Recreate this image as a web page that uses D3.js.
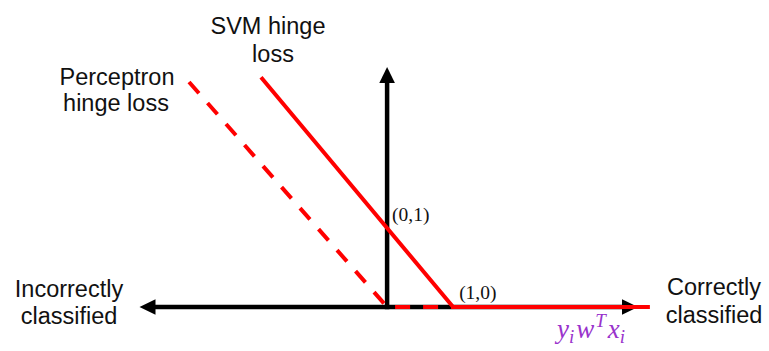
<!DOCTYPE html>
<html>
<head>
<meta charset="utf-8">
<script src="https://cdn.jsdelivr.net/npm/d3@7"></script>
<style>
  html, body { margin: 0; padding: 0; background: #fff; }
  svg { display: block; }
  .lbl { font-family: "Liberation Sans", Arial, sans-serif; font-size: 23.5px; fill: #111; }
  .pt { font-family: "Liberation Serif", "Times New Roman", serif; font-size: 19.5px; fill: #111; }
  .math { font-family: "Liberation Serif", "Times New Roman", serif; font-style: italic; font-size: 27px; fill: #9933cc; }
</style>
</head>
<body>
<svg id="chart" width="769" height="351"></svg>
<script>
// Axis extents in margin units (x = y_i w^T x_i, y = loss)
const xExtent = [-3.75, 3.8];
const yExtent = [0, 3.04];

// SVM hinge loss: max(0, 1 - m)
const svmLoss = [
  { m: -1.91, loss: 2.91 },
  { m: 1, loss: 0 },
  { m: 3.98, loss: 0 }
];
// Perceptron loss: max(0, -m), the zero part is dashed along the axis
const perceptronLoss = [
  { m: -3.0, loss: 2.85 },
  { m: 0, loss: 0 }
];
const perceptronFlat = [
  { m: 0, loss: 0 },
  { m: 1, loss: 0 }
];

// Annotated points
const points = [
  { m: 0, loss: 1, text: "(0,1)" },
  { m: 1, loss: 0, text: "(1,0)" }
];

const svg = d3.select("#chart");

const x = d3.scaleLinear().domain(xExtent).range([139.5, 638]);
const y = d3.scaleLinear().domain(yExtent).range([307, 67]);

const line = d3.line().x(d => x(d.m)).y(d => y(d.loss));

const AX_W = 4.5, HEAD_L = 16, HEAD_W = 7.8;

// Axes (black), with triangular heads
const x0 = x(0), y0 = y(0);
svg.append("line")
  .attr("x1", x(xExtent[0]) + HEAD_L - 1).attr("x2", x(xExtent[1]) - HEAD_L + 1)
  .attr("y1", y0).attr("y2", y0)
  .attr("stroke", "#000").attr("stroke-width", AX_W);
svg.append("line")
  .attr("x1", x0).attr("x2", x0)
  .attr("y1", y0 + AX_W / 2).attr("y2", y(yExtent[1]) + HEAD_L - 1)
  .attr("stroke", "#000").attr("stroke-width", AX_W);

function head(tx, ty, dx, dy) {
  // dx,dy: unit direction of the arrow
  const bx = tx - dx * HEAD_L, by = ty - dy * HEAD_L;
  const px = -dy * HEAD_W, py = dx * HEAD_W;
  return `M${tx},${ty}L${bx + px},${by + py}L${bx - px},${by - py}Z`;
}
svg.append("path").attr("d", head(x(xExtent[0]), y0, -1, 0)).attr("fill", "#000");
svg.append("path").attr("d", head(x(xExtent[1]), y0, 1, 0)).attr("fill", "#000");
svg.append("path").attr("d", head(x0, y(yExtent[1]), 0, -1)).attr("fill", "#000");

// Loss curves (red)
svg.append("path").datum(perceptronLoss)
  .attr("d", line).attr("fill", "none")
  .attr("stroke", "#ff0000").attr("stroke-width", 4)
  .attr("stroke-dasharray", "15,13");
svg.append("path").datum(perceptronFlat)
  .attr("d", line).attr("fill", "none")
  .attr("stroke", "#ff0000").attr("stroke-width", 4)
  .attr("stroke-dasharray", "15,13").attr("stroke-dashoffset", 20);
svg.append("path").datum(svmLoss)
  .attr("d", line).attr("fill", "none")
  .attr("stroke", "#ff0000").attr("stroke-width", 4)
  .attr("stroke-linejoin", "miter");

// Point labels
svg.append("text").attr("class", "pt")
  .attr("x", x(points[0].m) + 5).attr("y", y(points[0].loss) - 7)
  .text(points[0].text);
svg.append("text").attr("class", "pt")
  .attr("x", x(points[1].m) + 6).attr("y", y(points[1].loss) - 8)
  .text(points[1].text);

// Text labels
function twoLines(lines) {
  lines.forEach(l => {
    svg.append("text").attr("class", "lbl")
      .attr("x", l.x).attr("y", l.y)
      .attr("text-anchor", "middle").text(l.t);
  });
}
twoLines([{ t: "SVM hinge", x: 268, y: 34 }, { t: "loss", x: 273, y: 62 }]);
twoLines([{ t: "Perceptron", x: 117, y: 85 }, { t: "hinge loss", x: 116, y: 111 }]);
twoLines([{ t: "Incorrectly", x: 69, y: 297 }, { t: "classified", x: 69, y: 324 }]);
twoLines([{ t: "Correctly", x: 714, y: 295 }, { t: "classified", x: 714, y: 323 }]);

// Axis variable: y_i w^T x_i
const m = svg.append("text").attr("class", "math").attr("x", 557).attr("y", 338);
m.append("tspan").text("y");
m.append("tspan").attr("font-size", "19px").attr("dy", 5).text("i");
m.append("tspan").attr("dy", -5).attr("dx", 2).text("w");
m.append("tspan").attr("font-size", "19px").attr("dy", -11).attr("dx", 1).text("T");
m.append("tspan").attr("dy", 11).attr("dx", 2).text("x");
m.append("tspan").attr("font-size", "19px").attr("dy", 5).text("i");
</script>
</body>
</html>
